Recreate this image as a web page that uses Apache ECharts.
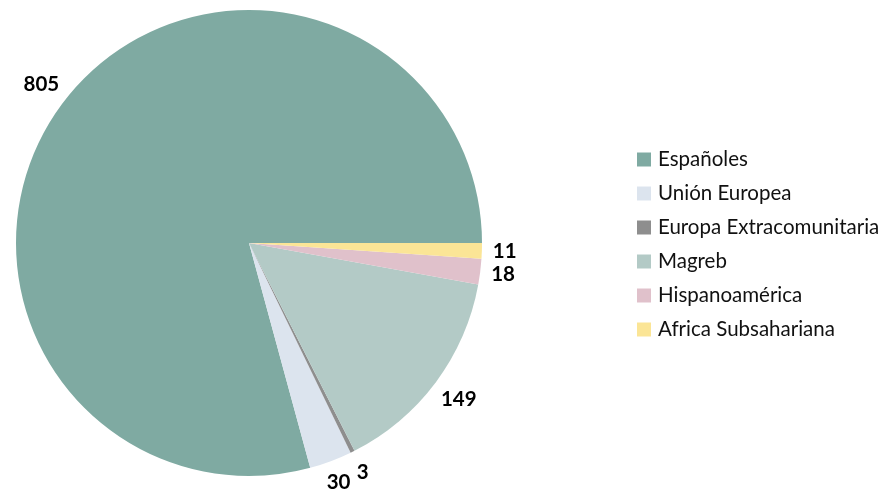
<!DOCTYPE html>
<html><head><meta charset="utf-8">
<script src="https://cdn.jsdelivr.net/npm/echarts@6/dist/echarts.min.js"></script>
<style>html,body{margin:0;padding:0;background:#fff}#c{width:889px;height:490px}</style>
</head><body><div id="c"></div>
<script>
const categories = ['Españoles','Unión Europea','Europa Extracomunitaria','Magreb','Hispanoamérica','Africa Subsahariana'];
const values = [805, 30, 3, 149, 18, 11];
const colors = ['#7FAAA2','#DCE4EE','#8E8E8E','#B3CAC6','#E0C1CB','#FBE596'];

const CX = 249, CY = 243, R = 233, GAP = 11;
const total = values.reduce((a,b)=>a+b,0);
const midAngles = [];
{ let acc = 0; values.forEach(v=>{ midAngles.push((acc + v/2)/total*2*Math.PI); acc += v; }); }

const chart = echarts.init(document.getElementById('c'), null, {renderer:'canvas'});
chart.setOption({
  animation:false,
  textStyle:{fontFamily:'Lato'},
  legend:{
    orient:'vertical', left:637, top:149, padding:0, itemWidth:14, itemHeight:14, itemGap:13,
    icon:'rect',
    textStyle:{fontFamily:'Lato', fontSize:20.5, color:'#111', padding:[0,0,0,2]},
    data:categories
  },
  series:[{
    type:'pie', center:[CX,CY], radius:R, startAngle:0, clockwise:false,
    label:{show:true, position:'outside', formatter:'{c}', fontFamily:'Lato', fontWeight:'bold', fontSize:20.5, color:'#000'},
    labelLine:{show:false, length:8, length2:0},
    labelLayout:function(p){
      const a = midAngles[p.dataIndex];
      const dx = Math.cos(a), dy = -Math.sin(a);
      const hw = p.labelRect.width/2, hh = p.labelRect.height/2;
      const s = Math.min(Math.abs(dx)>1e-6 ? hw/Math.abs(dx) : 1e9, Math.abs(dy)>1e-6 ? hh/Math.abs(dy) : 1e9);
      const d = R + GAP + s;
      return {x: CX + dx*d, y: CY + dy*d, align:'center', verticalAlign:'middle'};
    },
    itemStyle:{borderWidth:0},
    data: categories.map((n,i)=>({name:n, value:values[i], itemStyle:{color:colors[i]}}))
  }]
});
</script></body></html>
